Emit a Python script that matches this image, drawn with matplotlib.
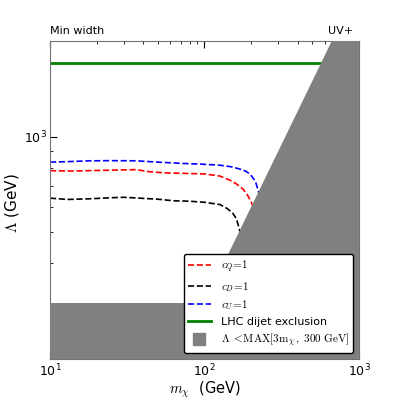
import numpy as np
from matplotlib import pyplot as plt
from matplotlib.lines import Line2D
from matplotlib.ticker import NullFormatter

plt.rcParams["mathtext.fontset"] = "cm"

# (m_chi in GeV, Lambda in GeV)
m_cq = [10, 14, 20, 28, 36, 44, 55, 73, 100, 126, 146, 160, 178, 190, 200, 210]
lam_cq = [782, 780, 783, 786, 788, 776, 770, 767, 764, 752, 730, 712, 684, 655, 625, 590]

m_cd = [10, 13, 18, 25, 30, 40, 50, 63, 80, 100, 126, 140, 152, 161, 168, 175]
lam_cd = [641, 635, 638, 643, 645, 640, 636, 629, 627, 622, 612, 595, 576, 552, 513, 470]

m_cu = [10, 13, 18, 25, 36, 50, 73, 95, 125, 150, 170, 185, 197, 206, 214, 223, 232]
lam_cu = [832, 835, 840, 841, 840, 832, 824, 820, 814, 804, 791, 779, 763, 742, 722, 676, 620]

lhc_dijet = 1700
m_grid = [10, 100, 1000]
lam_min = np.maximum(3 * np.array(m_grid), 300)

fig = plt.figure(figsize=(3.99, 3.99), dpi=100)
ax = fig.add_axes([0.1253, 0.1003, 0.7744, 0.7969])

ax.plot(m_cq, lam_cq, "--", color="r", lw=1.2, label=r"$c_Q\!=\!1$")
ax.plot(m_cd, lam_cd, "--", color="k", lw=1.2, label=r"$c_D\!=\!1$")
ax.plot(m_cu, lam_cu, "--", color="b", lw=1.2, label=r"$c_U\!=\!1$")
ax.axhline(lhc_dijet, color="g", lw=2, label="LHC dijet exclusion")
ax.fill_between(m_grid, 1, lam_min, color="gray", lw=0, zorder=3)

handles, labels = ax.get_legend_handles_labels()
handles.append(Line2D([], [], marker="s", ls="none", color="gray", markersize=8))
labels.append(r"$\Lambda\ \mathrm{<\!MAX[3m_{\chi}\,,\ 300\ GeV]}$")
leg = ax.legend(handles, labels, loc="lower right", fontsize=8, fancybox=True,
                framealpha=1, edgecolor="k", borderaxespad=0.5,
                labelspacing=0.42, handletextpad=0.9)
leg.set_zorder(5)

ax.set_xscale("log")
ax.set_yscale("log")
ax.set_xlim(10, 1000)
ax.set_ylim(200, 2000)
ax.yaxis.set_minor_formatter(NullFormatter())
ax.tick_params(which="both", direction="in", top=True, right=True, labelsize=9)
ax.tick_params(which="major", length=5, pad=2.5)
ax.tick_params(which="minor", length=2.5)
for sp in ax.spines.values():
    sp.set_color("0.45")

ax.set_xlabel(r"$m_\chi$  (GeV)", fontsize=10.5)
ax.set_ylabel(r"$\Lambda$ (GeV)", fontsize=11)
ax.xaxis.set_label_coords(0.5, -0.064)
ax.yaxis.set_label_coords(-0.095, 0.49)
ax.text(0, 1.015, "Min width", transform=ax.transAxes, fontsize=8, va="bottom")
ax.text(0.98, 1.015, "UV+", transform=ax.transAxes, fontsize=8, va="bottom", ha="right")

plt.savefig("out.png")
